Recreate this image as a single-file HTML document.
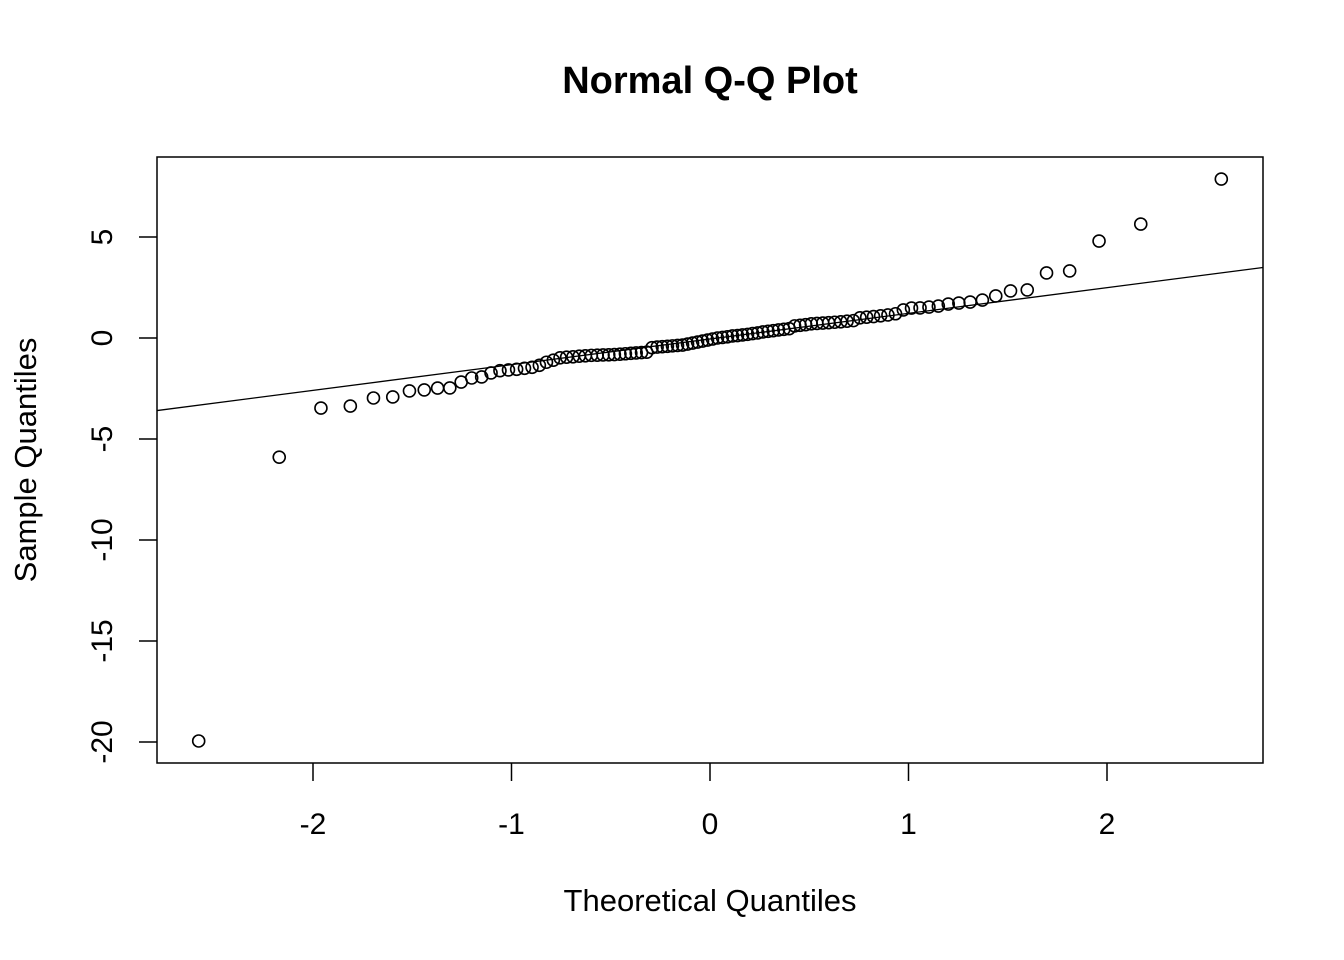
<!DOCTYPE html>
<html><head><meta charset="utf-8"><style>
body{margin:0;background:#fff}
svg{display:block;font-family:"Liberation Sans",Arial,sans-serif}
</style></head><body>
<svg id="chart" width="1344" height="960">
<text x="710" y="93" text-anchor="middle" font-size="38" font-weight="bold">Normal Q-Q Plot</text>
<rect x="157" y="157" width="1106" height="606" fill="none" stroke="#000" stroke-width="1.5"/>
<text x="710" y="911" text-anchor="middle" font-size="31">Theoretical Quantiles</text>
<text transform="translate(36,460) rotate(-90)" text-anchor="middle" font-size="31">Sample Quantiles</text>
<g id="axes"></g>
<g id="marks"></g>
</svg>
<script>
const xTicks=[-2,-1,0,1,2];
const yTicks=[-20,-15,-10,-5,0,5];
const sample=[-19.95,-5.9,-3.47,-3.37,-2.97,-2.92,-2.62,-2.57,-2.48,-2.47,-2.18,-1.98,-1.93,-1.73,-1.62,-1.58,-1.55,-1.5,-1.45,-1.35,-1.2,-1.1,
-0.98,-0.95,-0.93,-0.9,-0.88,-0.86,-0.85,-0.84,-0.83,-0.82,-0.8,-0.78,-0.76,-0.74,-0.72,-0.7,
-0.48,-0.45,-0.43,-0.41,-0.39,-0.37,-0.35,-0.3,-0.25,-0.2,-0.15,-0.1,
-0.05,0,0.03,0.06,0.1,0.12,0.15,0.18,0.22,0.25,0.3,0.33,0.36,0.4,0.43,0.46,
0.6,0.63,0.66,0.7,0.72,0.74,0.76,0.78,0.8,0.83,0.86,1.0,1.03,1.06,1.1,1.14,1.2,
1.39,1.48,1.49,1.53,1.58,1.68,1.73,1.78,1.88,2.08,2.33,2.38,3.22,3.32,4.8,5.64,7.87];
const NS="http://www.w3.org/2000/svg";
const X=v=>710+v*198.5, Y=v=>338-v*20.2;
function qnorm(p){const a=[-39.6968302866538,220.946098424521,-275.928510446969,138.357751867269,-30.6647980661472,2.50662827745924],b=[-54.4760987982241,161.585836858041,-155.698979859887,66.8013118877197,-13.2806815528857],c=[-0.00778489400243029,-0.322396458041136,-2.40075827716184,-2.54973253934373,4.37466414146497,2.93816398269878],d=[0.00778469570904146,0.32246712907004,2.445134137143,3.75440866190742];let q,r;
if(p<0.02425){q=Math.sqrt(-2*Math.log(p));return(((((c[0]*q+c[1])*q+c[2])*q+c[3])*q+c[4])*q+c[5])/((((d[0]*q+d[1])*q+d[2])*q+d[3])*q+1);}
if(p>1-0.02425){q=Math.sqrt(-2*Math.log(1-p));return-(((((c[0]*q+c[1])*q+c[2])*q+c[3])*q+c[4])*q+c[5])/((((d[0]*q+d[1])*q+d[2])*q+d[3])*q+1);}
q=p-0.5;r=q*q;return(((((a[0]*r+a[1])*r+a[2])*r+a[3])*r+a[4])*r+a[5])*q/(((((b[0]*r+b[1])*r+b[2])*r+b[3])*r+b[4])*r+1);}
function el(t,at,p){const e=document.createElementNS(NS,t);for(const k in at)e.setAttribute(k,at[k]);(p||document.getElementById('marks')).appendChild(e);return e;}
const ax=document.getElementById('axes');
xTicks.forEach(t=>{const l=el('line',{x1:X(t),x2:X(t),y1:763,y2:781,stroke:'#000','stroke-width':1.5},ax);


const tx=el('text',{x:X(t),y:834,'text-anchor':'middle','font-size':30},ax);tx.textContent=t;

});
yTicks.forEach(t=>{const l=el('line',{x1:139,x2:157,y1:Y(t),y2:Y(t),stroke:'#000','stroke-width':1.5},ax);


const tx=el('text',{transform:`translate(112,${Y(t)}) rotate(-90)`,'text-anchor':'middle','font-size':30},ax);tx.textContent=t;

});
const n=sample.length, s=[...sample].sort((a,b)=>a-b);
s.forEach((v,i)=>{const q=qnorm((i+0.5)/n);const c=el('circle',{cx:X(q),cy:Y(v),r:6,fill:'none',stroke:'#000','stroke-width':1.6});

});
function quant(p){const h=(n-1)*p,lo=Math.floor(h);return s[lo]+(h-lo)*(s[Math.min(lo+1,n-1)]-s[lo]);}
const y1=quant(0.25),y2=quant(0.75),x1=qnorm(0.25),x2=qnorm(0.75);
const slope=(y2-y1)/(x2-x1),ic=y1-slope*x1;
const xa=(157-710)/198.5,xb=(1263-710)/198.5;
const ln=el('line',{x1:157,x2:1263,y1:Y(ic+slope*xa),y2:Y(ic+slope*xb),stroke:'#000','stroke-width':1.3});


</script>
</body></html>
